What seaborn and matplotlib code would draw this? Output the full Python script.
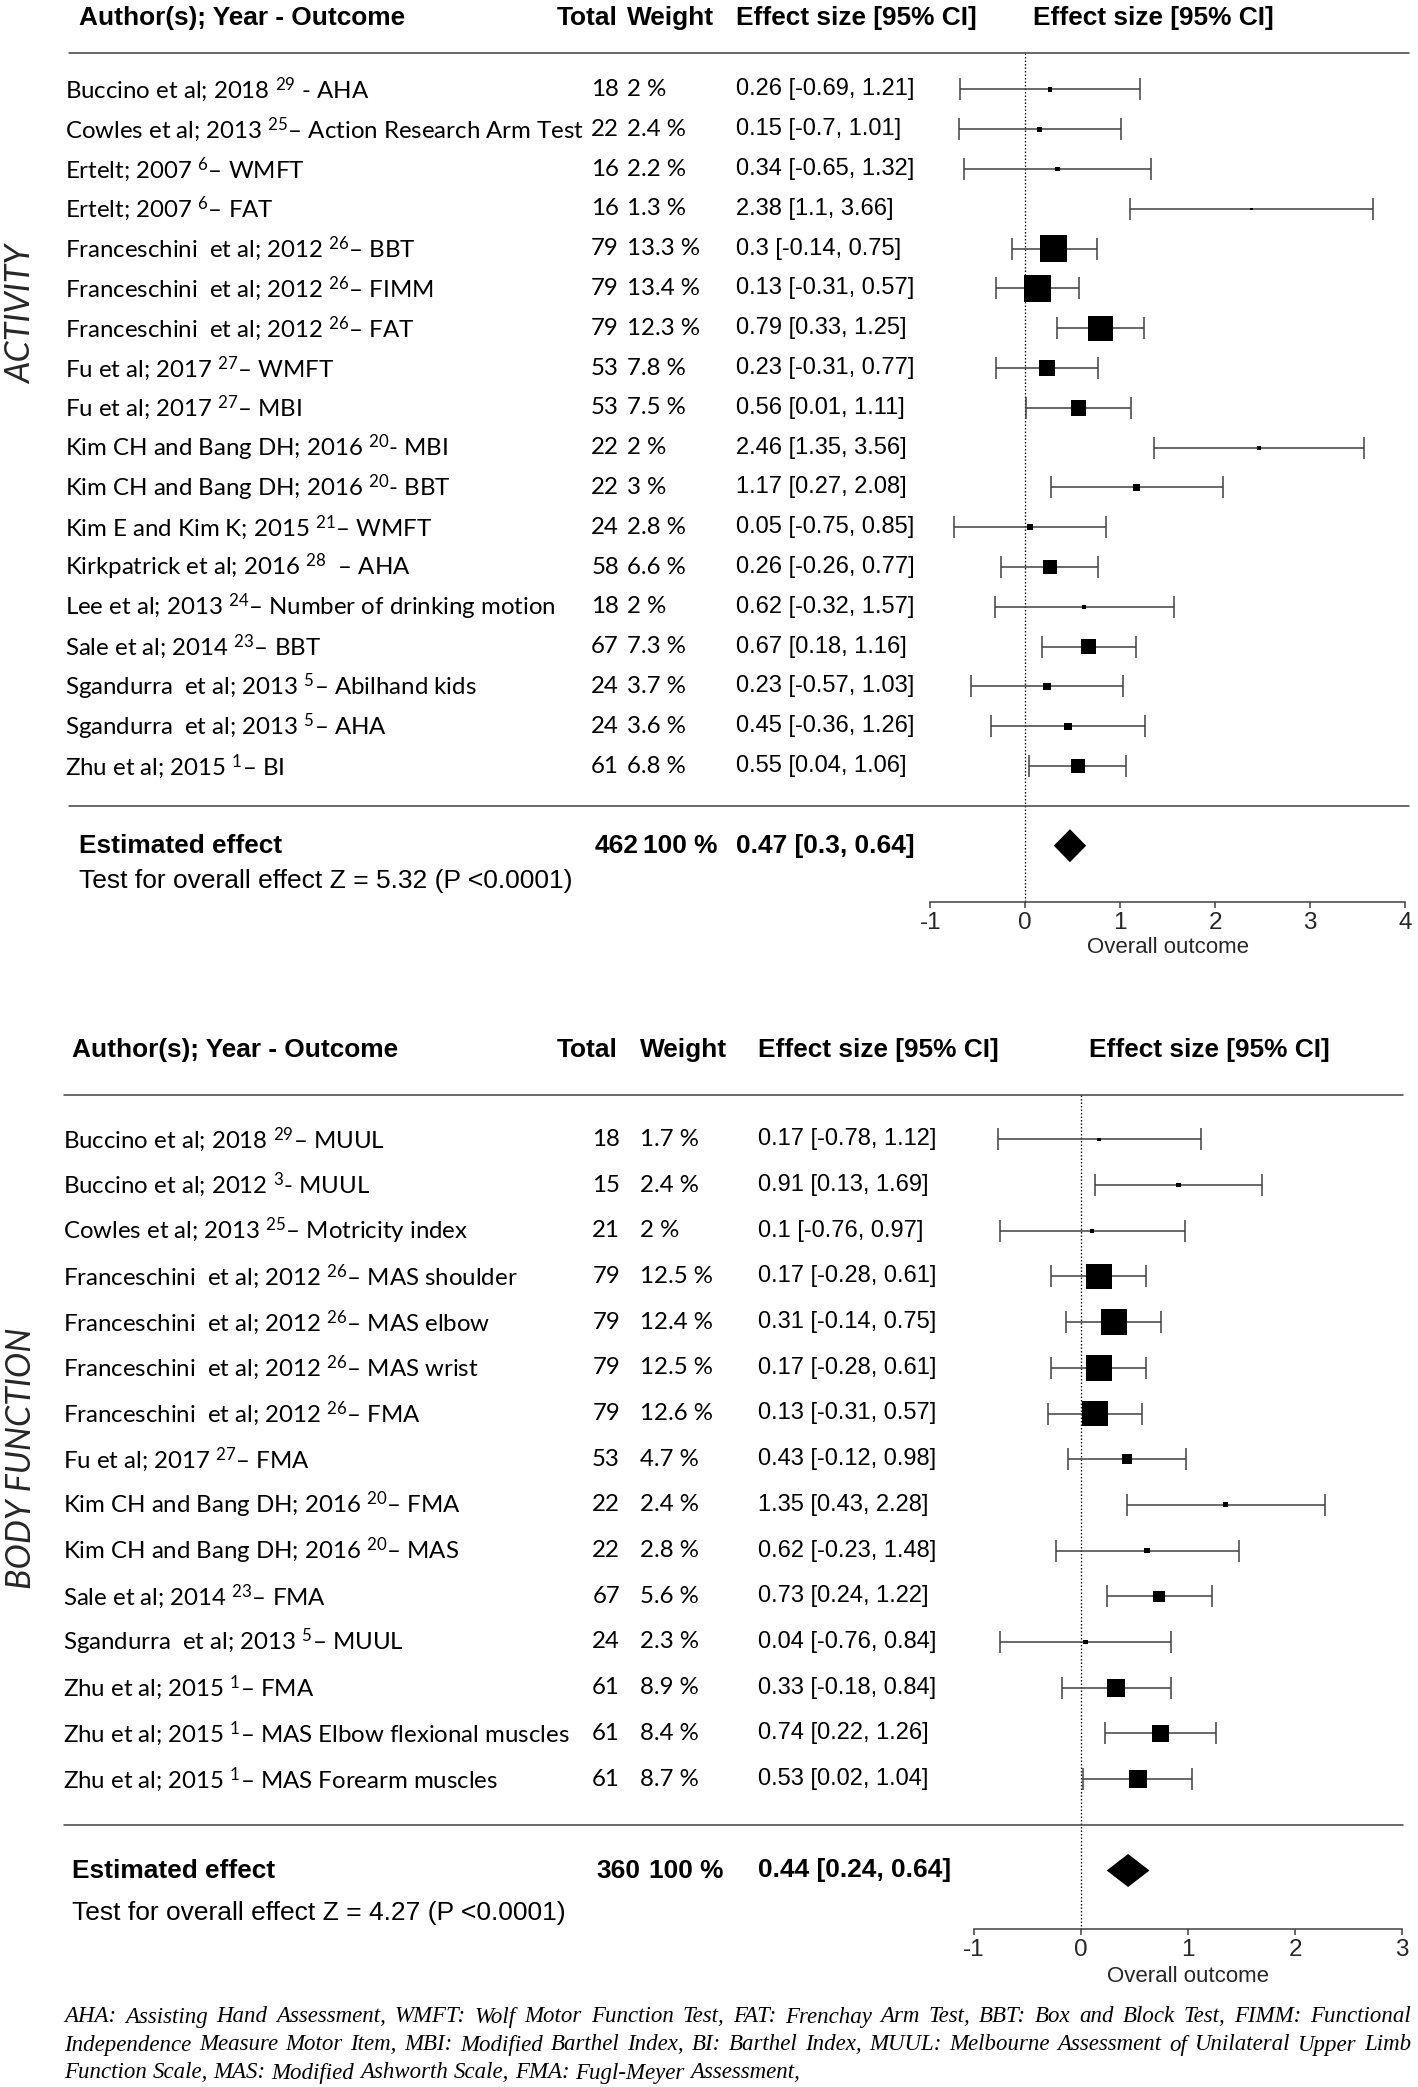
import numpy as np
import pandas as pd
import matplotlib
import matplotlib.pyplot as plt
import matplotlib.transforms as mtransforms
import seaborn as sns

W, H = 1418, 2087

# ---- ACTIVITY outcomes ----
act_labels = [
    "Buccino et al; 2018 $^{29}$ - AHA",
    "Cowles et al; 2013 $^{25}$– Action Research Arm Test",
    "Ertelt; 2007 $^{6}$– WMFT",
    "Ertelt; 2007 $^{6}$– FAT",
    "Franceschini  et al; 2012 $^{26}$– BBT",
    "Franceschini  et al; 2012 $^{26}$– FIMM",
    "Franceschini  et al; 2012 $^{26}$– FAT",
    "Fu et al; 2017 $^{27}$– WMFT",
    "Fu et al; 2017 $^{27}$– MBI",
    "Kim CH and Bang DH; 2016 $^{20}$- MBI",
    "Kim CH and Bang DH; 2016 $^{20}$- BBT",
    "Kim E and Kim K; 2015 $^{21}$– WMFT",
    "Kirkpatrick et al; 2016 $^{28}$  – AHA",
    "Lee et al; 2013 $^{24}$– Number of drinking motion",
    "Sale et al; 2014 $^{23}$– BBT",
    "Sgandurra  et al; 2013 $^{5}$– Abilhand kids",
    "Sgandurra  et al; 2013 $^{5}$– AHA",
    "Zhu et al; 2015 $^{1}$– BI",
]
act_total = [18, 22, 16, 16, 79, 79, 79, 53, 53, 22, 22, 24, 58, 18, 67, 24, 24, 61]
act_weight = [2, 2.4, 2.2, 1.3, 13.3, 13.4, 12.3, 7.8, 7.5, 2, 3, 2.8, 6.6, 2, 7.3, 3.7, 3.6, 6.8]
act_es = [0.26, 0.15, 0.34, 2.38, 0.3, 0.13, 0.79, 0.23, 0.56, 2.46, 1.17, 0.05, 0.26, 0.62, 0.67, 0.23, 0.45, 0.55]
act_lo = [-0.69, -0.7, -0.65, 1.1, -0.14, -0.31, 0.33, -0.31, 0.01, 1.35, 0.27, -0.75, -0.26, -0.32, 0.18, -0.57, -0.36, 0.04]
act_hi = [1.21, 1.01, 1.32, 3.66, 0.75, 0.57, 1.25, 0.77, 1.11, 3.56, 2.08, 0.85, 0.77, 1.57, 1.16, 1.03, 1.26, 1.06]
act_pooled = [0.47, 0.3, 0.64]
act_n = 462
act_z = 5.32
act_ticks = [-1, 0, 1, 2, 3, 4]

# ---- BODY FUNCTION outcomes ----
body_labels = [
    "Buccino et al; 2018 $^{29}$– MUUL",
    "Buccino et al; 2012 $^{3}$- MUUL",
    "Cowles et al; 2013 $^{25}$– Motricity index",
    "Franceschini  et al; 2012 $^{26}$– MAS shoulder",
    "Franceschini  et al; 2012 $^{26}$– MAS elbow",
    "Franceschini  et al; 2012 $^{26}$– MAS wrist",
    "Franceschini  et al; 2012 $^{26}$– FMA",
    "Fu et al; 2017 $^{27}$– FMA",
    "Kim CH and Bang DH; 2016 $^{20}$– FMA",
    "Kim CH and Bang DH; 2016 $^{20}$– MAS",
    "Sale et al; 2014 $^{23}$– FMA",
    "Sgandurra  et al; 2013 $^{5}$– MUUL",
    "Zhu et al; 2015 $^{1}$– FMA",
    "Zhu et al; 2015 $^{1}$– MAS Elbow flexional muscles",
    "Zhu et al; 2015 $^{1}$– MAS Forearm muscles",
]
body_total = [18, 15, 21, 79, 79, 79, 79, 53, 22, 22, 67, 24, 61, 61, 61]
body_weight = [1.7, 2.4, 2, 12.5, 12.4, 12.5, 12.6, 4.7, 2.4, 2.8, 5.6, 2.3, 8.9, 8.4, 8.7]
body_es = [0.17, 0.91, 0.1, 0.17, 0.31, 0.17, 0.13, 0.43, 1.35, 0.62, 0.73, 0.04, 0.33, 0.74, 0.53]
body_lo = [-0.78, 0.13, -0.76, -0.28, -0.14, -0.28, -0.31, -0.12, 0.43, -0.23, 0.24, -0.76, -0.18, 0.22, 0.02]
body_hi = [1.12, 1.69, 0.97, 0.61, 0.75, 0.61, 0.57, 0.98, 2.28, 1.48, 1.22, 0.84, 0.84, 1.26, 1.04]
body_pooled = [0.44, 0.24, 0.64]
body_n = 360
body_z = 4.27
body_ticks = [-1, 0, 1, 2, 3]

headers = ["Author(s); Year - Outcome", "Total", "Weight",
           "Effect size [95% CI]", "Effect size [95% CI]"]

footnote = [
    "AHA: Assisting Hand Assessment, WMFT: Wolf Motor Function Test, FAT: Frenchay Arm Test, "
    "BBT: Box and Block Test, FIMM: Functional",
    "Independence Measure Motor Item, MBI: Modified Barthel Index, BI: Barthel Index, "
    "MUUL: Melbourne Assessment of Unilateral Upper Limb",
    "Function Scale, MAS: Modified Ashworth Scale, FMA: Fugl-Meyer Assessment,",
]

# layout in output pixels
top_lay = dict(ax_top=0, ax_bottom=902, row0=89.5, dy=39.8, x0=1025.3, ux=95.0,
               head_y=-0.80, head_x=(78.6, 557, 627, 736, 1033), rule_top=0.08,
               rule_x=(69, 1409), label_x=65, total_x=595, total_r=619, weight_x=627,
               es_x=736, est_x=78.6, est_wx=643, test_y=20.88, xlab_y=22.55, side_y=314)
body_lay = dict(ax_top=990, ax_bottom=1929, row0=1139.3, dy=45.7, x0=1081, ux=107.0,
                head_y=-0.95, head_x=(72, 557, 640, 758, 1089), rule_top=0.02,
                rule_x=(64, 1403), label_x=63, total_x=596, total_r=620, weight_x=640,
                es_x=758, est_x=72, est_wx=649, test_y=17.93, xlab_y=19.33, side_y=1458)

ROW_FONT = ["Lato", "DejaVu Sans"]
ARIAL = ["Liberation Sans", "DejaVu Sans"]
SERIF = ["Liberation Serif", "DejaVu Serif"]
LINE = "#404040"
ROW_SIZE = 17.3

sns.set_theme(style="white")
plt.rcParams["font.family"] = ROW_FONT
plt.rcParams["mathtext.fontset"] = "custom"
plt.rcParams["mathtext.rm"] = "Lato"
plt.rcParams["mathtext.it"] = "Lato:italic"
plt.rcParams["mathtext.bf"] = "Lato:bold"
plt.rcParams["axes.unicode_minus"] = False

fig = plt.figure(figsize=(W / 100, H / 100), dpi=100)


def fmt_ci(e, l, h):
    return f"{e:g} [{l:g}, {h:g}]"


def draw_panel(labels, total, weight, es, lo, hi, pooled, n_total, z, ticks, side, lay):
    k = len(labels)
    rows = np.arange(1, k + 1)
    es, lo, hi = np.array(es), np.array(lo), np.array(hi)

    def to_row(px):
        return 1 + (px - lay["row0"]) / lay["dy"]

    ax = fig.add_axes([0, 1 - lay["ax_bottom"] / H, 1,
                       (lay["ax_bottom"] - lay["ax_top"]) / H])
    ax.patch.set_alpha(0)
    tr = mtransforms.blended_transform_factory(fig.transFigure, ax.transData)

    def txt(xpx, y, s, ha="left", **kw):
        kw.setdefault("color", "black")
        ax.text(xpx / W, y, s, transform=tr, va="center", ha=ha,
                clip_on=False, **kw)

    # column headers and rules
    for x, s in zip(lay["head_x"], headers):
        txt(x, lay["head_y"], s, fontsize=18.9, fontweight="bold", family=ARIAL)
    for y in (lay["rule_top"], k + 1):
        ax.plot([lay["rule_x"][0] / W, lay["rule_x"][1] / W], [y, y], transform=tr,
                color=LINE, lw=1.1, clip_on=False)

    # study rows
    for i in range(k):
        txt(lay["label_x"], rows[i], labels[i], fontsize=ROW_SIZE, family=ROW_FONT)
        txt(lay["total_r"], rows[i], str(total[i]), ha="right", fontsize=ROW_SIZE,
            family=ROW_FONT)
        txt(lay["weight_x"], rows[i], f"{weight[i]:g} %", fontsize=ROW_SIZE, family=ROW_FONT)
        txt(lay["es_x"], rows[i], fmt_ci(es[i], lo[i], hi[i]), fontsize=17, family=ARIAL)

    # summary
    est_y = k + 2
    txt(lay["est_x"], est_y, "Estimated effect", fontsize=18.9, fontweight="bold", family=ARIAL)
    txt(lay["total_x"], est_y, str(n_total), fontsize=18.9, fontweight="bold", family=ARIAL)
    txt(lay["est_wx"], est_y, "100 %", fontsize=18.9, fontweight="bold", family=ARIAL)
    txt(lay["es_x"], est_y, fmt_ci(*pooled), fontsize=18.9, fontweight="bold", family=ARIAL)
    txt(lay["est_x"], lay["test_y"], f"Test for overall effect Z = {z:g} (P <0.0001)",
        fontsize=19, family=ARIAL)

    # forest
    ybot = to_row(lay["ax_bottom"])
    ax.plot([0, 0], [lay["rule_top"], ybot], color="black", lw=0.9,
            ls=(0, (1.2, 1.6)), zorder=1)
    ax.errorbar(es, rows, xerr=[es - lo, hi - es], fmt="none", ecolor=LINE,
                elinewidth=1.1, capsize=7.9, capthick=1.1, zorder=2)
    df = pd.DataFrame({"es": es, "row": rows, "w": weight})
    sizes = (df["w"] * 2.05 * 0.72) ** 2
    sns.scatterplot(data=df, x="es", y="row", s=sizes, marker="s", color="black",
                    linewidth=0, legend=False, ax=ax, zorder=3)
    e, l, h = pooled
    half = 16.5 / lay["dy"]
    ax.fill([l, e, h, e], [est_y, est_y - half, est_y, est_y + half],
            color="black", lw=0, zorder=3)

    ax.set_xlim(-lay["x0"] / lay["ux"], (W - lay["x0"]) / lay["ux"])
    ax.set_ylim(ybot, to_row(lay["ax_top"]))

    # axis
    sns.despine(ax=ax, left=True)
    ax.spines["bottom"].set_bounds(ticks[0], ticks[-1])
    ax.spines["bottom"].set_color(LINE)
    ax.spines["bottom"].set_linewidth(1.1)
    ax.set_xticks(ticks)
    ax.set_xticklabels([str(t) for t in ticks], family=ARIAL, fontsize=17.5)
    ax.tick_params(axis="x", bottom=True, direction="out", length=4.5, width=1.1,
                   color=LINE, pad=3)
    ax.set_yticks([])
    ax.set_xlabel("")
    ax.set_ylabel("")
    ax.text((ticks[0] + ticks[-1]) / 2, lay["xlab_y"], "Overall outcome", ha="center",
            va="center", family=ARIAL, fontsize=16, clip_on=False)

    fig.text(21 / W, 1 - lay["side_y"] / H, side, rotation=90, style="italic",
             fontsize=24.5, ha="center", va="center", family=ROW_FONT)


draw_panel(act_labels, act_total, act_weight, act_es, act_lo, act_hi, act_pooled,
           act_n, act_z, act_ticks, "ACTIVITY", top_lay)
draw_panel(body_labels, body_total, body_weight, body_es, body_lo, body_hi, body_pooled,
           body_n, body_z, body_ticks, "BODY FUNCTION", body_lay)

# justified footnote
renderer = fig.canvas.get_renderer()
foot_y = [2017, 2045, 2073]
x_left, x_right = 64, 1411
for j, line in enumerate(footnote):
    words = line.split()
    texts = [fig.text(0, 1 - foot_y[j] / H, wd, family=SERIF, style="italic",
                      fontsize=16.5, va="center", ha="left", color="black") for wd in words]
    widths = [t.get_window_extent(renderer).width for t in texts]
    if j < len(footnote) - 1:
        gap = (x_right - x_left - sum(widths)) / (len(words) - 1)
    else:
        gap = texts[0].get_fontsize() * 100 / 72 * 0.25
    x = x_left
    for t, wd in zip(texts, widths):
        t.set_x(x / W)
        x += wd + gap

fig.savefig("out.png", dpi=100)
